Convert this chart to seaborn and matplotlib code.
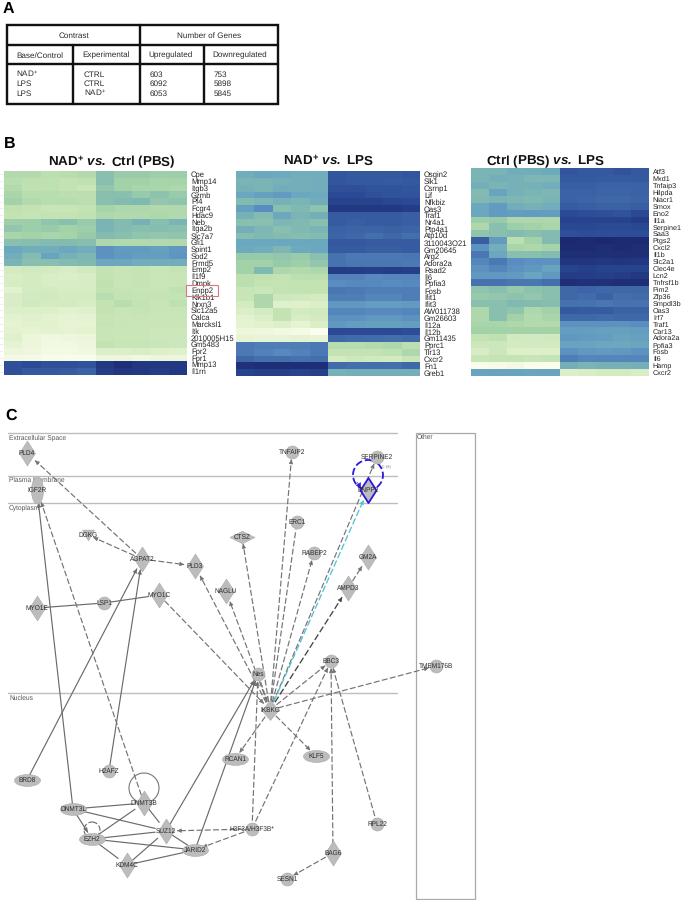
import numpy as np
import pandas as pd
import matplotlib
matplotlib.use("Agg")
import matplotlib.pyplot as plt
from matplotlib.colors import LinearSegmentedColormap
from matplotlib.path import Path
from matplotlib.patches import Rectangle, Circle
from matplotlib.transforms import Affine2D
import seaborn as sns

# ---------- Panel A ----------
table_header = ["Contrast", "Number of Genes"]
table_columns = ["Base/Control", "Experimental", "Upregulated", "Downregulated"]
base_control = ["NAD$^{+}$", "LPS", "LPS"]
experimental = ["CTRL", "CTRL", "NAD$^{+}$"]
upregulated = ["603", "6092", "6053"]
downregulated = ["753", "5898", "5845"]

# ---------- Panel B ----------
genes_1 = ["Cpe","Mmp14","Itgb3","Gzmb","Pf4","Fcgr4","Hdac9","Neb","Itga2b","Slc7a7","Gfi1","Spint1","Sod2","Frmd5","Emp2","Il1f9","Dmpk","Enpp2","Klk1b1","Nrxn3","Slc12a5","Calca","Marcksl1","Itk","2010005H15","Gm5483","Fpr2","Fpr1","Mmp13","Il1rn"]
values_1 = [
 [.36,.36,.33,.34,.36,.50,.45,.45,.43,.44],[.34,.32,.32,.30,.31,.50,.42,.42,.40,.41],
 [.36,.31,.32,.30,.27,.47,.42,.40,.40,.38],[.40,.34,.34,.33,.33,.50,.50,.46,.49,.45],
 [.42,.36,.34,.35,.33,.50,.52,.53,.47,.48],[.31,.30,.28,.28,.30,.41,.38,.38,.37,.37],
 [.30,.29,.30,.30,.31,.38,.37,.37,.38,.37],[.43,.44,.48,.50,.45,.55,.52,.56,.50,.55],
 [.47,.44,.45,.42,.44,.55,.52,.50,.51,.50],[.40,.42,.40,.41,.45,.52,.50,.48,.47,.48],
 [.50,.51,.52,.52,.51,.38,.37,.37,.37,.37],[.60,.58,.58,.60,.58,.68,.65,.65,.63,.66],
 [.58,.52,.62,.56,.54,.68,.66,.64,.64,.67],[.55,.50,.50,.52,.53,.60,.60,.58,.58,.58],
 [.22,.24,.22,.20,.24,.30,.28,.29,.27,.29],[.20,.22,.20,.19,.20,.30,.28,.29,.27,.28],
 [.21,.22,.20,.20,.21,.31,.28,.29,.27,.28],[.16,.22,.22,.21,.21,.30,.29,.28,.28,.31],
 [.20,.23,.24,.22,.22,.34,.30,.29,.29,.29],[.20,.24,.22,.22,.21,.30,.34,.30,.28,.32],
 [.18,.18,.18,.16,.17,.30,.28,.29,.28,.28],[.16,.17,.15,.13,.14,.28,.27,.28,.27,.27],
 [.14,.16,.16,.13,.13,.29,.28,.27,.27,.27],[.15,.13,.15,.14,.15,.28,.27,.27,.26,.26],
 [.17,.10,.07,.08,.09,.28,.27,.27,.26,.26],[.14,.10,.06,.06,.08,.30,.28,.28,.27,.26],
 [.10,.08,.05,.05,.07,.19,.19,.20,.18,.17],[.05,.04,.03,.02,.02,.10,.09,.07,.10,.09],
 [.88,.90,.88,.88,.87,.95,.98,.95,.95,.95],[.88,.85,.85,.84,.82,.94,.96,.95,.94,.95]]

genes_2 = ["Osgin2","Slk1","Csrnp1","Lif","Nfkbiz","Oas3","Traf1","Nr4a1","Ptp4a1","Atp10d","3110043O21","Gm20645","Arg2","Adora2a","Rsad2","Il6","Ppfia3","Fosb","Ifit1","Ifit3","AW011738","Gm26603","Il12a","Il12b","Gm11435","Pprc1","Tlr13","Cxcr2","Fn1","Greb1"]
values_2 = [
 [.58,.60,.59,.58,.58,.86,.85,.85,.85,.86],[.55,.55,.56,.57,.58,.86,.85,.85,.84,.85],
 [.56,.55,.58,.57,.58,.88,.88,.87,.87,.86],[.60,.63,.65,.60,.59,.90,.90,.88,.87,.87],
 [.52,.54,.56,.55,.58,.92,.92,.92,.91,.90],[.63,.70,.50,.53,.49,.95,.95,.95,.95,.94],
 [.56,.52,.60,.55,.57,.84,.84,.84,.84,.83],[.50,.50,.54,.53,.50,.84,.83,.84,.84,.83],
 [.57,.54,.50,.53,.55,.82,.81,.81,.82,.81],[.51,.53,.52,.51,.52,.81,.80,.78,.80,.78],
 [.60,.60,.60,.60,.60,.85,.85,.84,.84,.84],[.59,.58,.54,.59,.60,.84,.84,.83,.83,.84],
 [.46,.46,.47,.45,.50,.77,.75,.75,.75,.76],[.42,.42,.46,.43,.47,.77,.76,.76,.76,.75],
 [.42,.53,.38,.36,.38,.94,.94,.93,.94,.93],[.33,.31,.30,.33,.33,.73,.73,.71,.72,.72],
 [.33,.30,.29,.30,.30,.70,.71,.71,.70,.71],[.28,.27,.30,.30,.30,.76,.75,.74,.74,.74],
 [.28,.38,.25,.24,.22,.74,.74,.72,.72,.74],[.22,.38,.17,.17,.19,.66,.66,.64,.64,.65],
 [.19,.22,.30,.22,.24,.72,.72,.71,.71,.72],[.15,.19,.30,.20,.22,.68,.68,.66,.66,.68],
 [.14,.16,.18,.13,.19,.66,.64,.63,.63,.64],[.09,.08,.06,.04,.00,.90,.90,.90,.90,.89],
 [.13,.12,.12,.14,.12,.80,.79,.79,.78,.79],[.75,.74,.74,.74,.75,.35,.35,.36,.38,.33],
 [.75,.73,.71,.73,.75,.30,.30,.30,.32,.38],[.80,.78,.78,.77,.78,.22,.25,.24,.22,.28],
 [.97,.98,.98,.98,.98,.79,.78,.78,.78,.80],[.92,.93,.93,.92,.93,.56,.57,.57,.57,.57]]

genes_3 = ["Atf3","Mxd1","Tnfaip3","Hilpda","Niacr1","Smox","Eno2","Il1a","Serpine1","Saa3","Ptgs2","Cxcl2","Il1b","Slc2a1","Clec4e","Lcn2","Tnfrsf1b","Pim2","Zfp36","Smpdl3b","Oas3","Irf7","Traf1","Car13","Adora2a","Ppfia3","Fosb","Il6","Hamp","Cxcr2"]
values_3 = [
 [.55,.55,.58,.58,.59,.86,.85,.85,.87,.85],[.55,.57,.56,.54,.54,.85,.85,.84,.84,.85],
 [.57,.55,.56,.56,.58,.83,.83,.82,.82,.82],[.52,.62,.56,.55,.54,.82,.82,.81,.81,.82],
 [.53,.55,.54,.53,.55,.82,.81,.80,.80,.81],[.60,.65,.58,.56,.58,.84,.83,.82,.82,.83],
 [.60,.65,.64,.65,.64,.90,.89,.88,.87,.90],[.44,.45,.38,.38,.38,.92,.92,.92,.92,.94],
 [.38,.50,.44,.42,.40,.91,.91,.90,.90,.91],[.48,.50,.52,.50,.52,.88,.89,.89,.89,.89],
 [.83,.65,.33,.42,.52,1.0,.99,1.0,.99,.99],[.68,.57,.40,.38,.41,.99,.99,.98,.99,.98],
 [.76,.60,.50,.50,.52,.98,.98,.98,.98,.98],[.72,.75,.70,.68,.68,.96,.96,.95,.96,.95],
 [.68,.72,.68,.66,.62,.92,.93,.92,.92,.92],[.66,.66,.65,.61,.66,.94,.94,.93,.94,.95],
 [.77,.77,.76,.76,.78,.98,.97,.97,.98,.98],[.48,.50,.46,.49,.50,.80,.81,.80,.80,.80],
 [.46,.47,.49,.47,.50,.80,.79,.82,.78,.79],[.50,.50,.53,.52,.51,.77,.77,.76,.77,.77],
 [.38,.50,.48,.38,.42,.85,.84,.84,.82,.82],[.38,.50,.42,.36,.40,.80,.80,.79,.80,.80],
 [.40,.40,.38,.36,.36,.68,.68,.68,.68,.70],[.42,.42,.42,.42,.42,.64,.64,.63,.63,.64],
 [.30,.32,.23,.23,.24,.66,.65,.64,.62,.63],[.26,.26,.22,.23,.23,.62,.62,.60,.60,.61],
 [.21,.26,.18,.18,.18,.68,.66,.65,.66,.68],[.28,.29,.29,.28,.29,.74,.72,.72,.72,.72],
 [.02,.03,.05,.01,.01,.57,.55,.56,.56,.57],[.62,.62,.62,.61,.62,.18,.20,.22,.22,.20]]

titles = ["NAD$^{\\mathbf{+}}$ $\\mathbfit{vs.}$ Ctrl (PBS)",
          "NAD$^{\\mathbf{+}}$ $\\mathbfit{vs.}$ LPS",
          "Ctrl (PBS) $\\mathbfit{vs.}$ LPS"]

# ---------- Panel C ----------
layer_names = ["Extracellular Space", "Plasma Membrane", "Cytoplasm", "Nucleus"]
layer_y = [433, 476, 503, 693]

node_names = ["PLD4","IGF2R","DGKG","AGPAT2","PLD3","MYO1E","LSP1","MYO1C","NAGLU","CTSZ","TNFAIP2","ERC1","RABEP2","SERPINE2","ENPP2","GM2A","AMPD3","BBC3","TMEM176B","Nes","IKBKG","RCAN1","KLF5","BRD8","H2AFZ","DNMT3L","DNMT3B","SUZ12","EZH2","JARID2","KDM4C","H3F3A/H3F3B*","BAG6","SESN1","RPL22"]
node_x = [27,37,88,142,195,37,104,159,226,242,292,297,314,377,368,368,348,331,436,258,270,235,316,27,109,73,144,166,92,195,127,252,333,287,377]
node_y = [453,490,535,559,566,608,603,595,591,537,452,522,553,457,490,557,588,661,666,674,710,759,756,780,771,809,803,831,839,850,865,829,853,879,824]
node_kind = ["diamond","tall","tri","diamond","diamond","diamond","circle","diamond","diamond","wide","circle","circle","circle","circle","diamond","diamond","diamond","circle","circle","circle","ikbkg","ellipse","ellipse","ellipse","circle","ellipse","diamond","diamond","ellipse","ellipse","diamond","circle","diamond","circle","circle"]

solid_edges = [("BRD8","AGPAT2"),("H2AFZ","AGPAT2"),("DNMT3L","IGF2R"),("DNMT3L","EZH2"),("SUZ12","Nes"),("JARID2","Nes")]
solid_links = [("MYO1E","LSP1"),("LSP1","MYO1C"),("DNMT3L","DNMT3B"),("DNMT3L","SUZ12"),("EZH2","DNMT3B"),("EZH2","SUZ12"),("EZH2","JARID2"),("EZH2","KDM4C"),("KDM4C","SUZ12"),("KDM4C","JARID2"),("DNMT3B","SUZ12"),("SUZ12","JARID2")]
dashed_edges = [("AGPAT2","PLD4"),("AGPAT2","DGKG"),("AGPAT2","PLD3"),("DNMT3B","IGF2R"),("MYO1C","IKBKG"),
                ("IKBKG","PLD3"),("IKBKG","NAGLU"),("IKBKG","CTSZ"),("IKBKG","TNFAIP2"),("IKBKG","RABEP2"),
                ("IKBKG","SERPINE2"),("AMPD3","GM2A"),("IKBKG","BBC3"),("IKBKG","RCAN1"),("IKBKG","KLF5"),
                ("IKBKG","TMEM176B"),("H3F3A/H3F3B*","Nes"),("H3F3A/H3F3B*","BBC3"),("BAG6","BBC3"),("RPL22","BBC3"),
                ("BAG6","SESN1"),("H3F3A/H3F3B*","JARID2"),("H3F3A/H3F3B*","SUZ12"),("Nes","IKBKG")]
dashed_links = [("IKBKG","ERC1")]
dark_edges = [("IKBKG","AMPD3")]
cyan_edges = [("IKBKG","ENPP2")]

# ---------- Style ----------
sns.set_theme(style="white")
plt.rcParams["font.family"] = ["Liberation Sans", "DejaVu Sans"]
plt.rcParams["text.hinting"] = "no_hinting"
plt.rcParams["mathtext.fontset"] = "custom"
plt.rcParams["mathtext.rm"] = "Liberation Sans"
plt.rcParams["mathtext.it"] = "Liberation Sans:italic"
plt.rcParams["mathtext.bf"] = "Liberation Sans:bold"
plt.rcParams["mathtext.bfit"] = "Liberation Sans:italic:bold"
plt.rcParams["mathtext.default"] = "regular"

W, H = 683, 900
fig = plt.figure(figsize=(W / 100, H / 100), dpi=100, facecolor="white")
pt = 0.72

ov = fig.add_axes([0, 0, 1, 1], zorder=0)
ov.set_xlim(0, W); ov.set_ylim(H, 0); ov.axis("off")

for letter, x, y in [("A", 3, 13), ("B", 4, 148), ("C", 5, 420)]:
    ov.text(x, y, letter, fontsize=11.5, fontweight="bold", color="black", va="baseline")

# Panel A table
tc = "#111111"; tw = 2.4 * pt
ov.add_patch(Rectangle((7, 24.5), 271, 79, fill=False, ec=tc, lw=tw))
ov.plot([7, 278], [44.5, 44.5], color=tc, lw=tw)
ov.plot([7, 278], [64, 64], color=tc, lw=tw)
ov.plot([140, 140], [24.5, 103.5], color=tc, lw=tw)
ov.plot([73, 73], [44.5, 103.5], color=tc, lw=tw)
ov.plot([204, 204], [44.5, 103.5], color=tc, lw=tw)
tf = dict(fontsize=5.9, color="#2a2a2a")
for txt, x in zip(table_header, [73.5, 209]):
    ov.text(x, 37.5, txt, ha="center", va="baseline", **tf)
for txt, x in zip(table_columns, [40, 106, 171, 239.5]):
    ov.text(x, 57.5, txt, ha="center", va="baseline", **tf)
for col, x in zip([base_control, experimental, upregulated, downregulated], [16, 84, 150, 214]):
    for txt, y in zip(col, [76.5, 86, 95.5]):
        ov.text(x, y, txt, ha="left", va="baseline", **tf)

# Panel B heatmaps
cmap = LinearSegmentedColormap.from_list("hm", [
    (0.00, "#fbfdee"), (0.15, "#e3f2cf"), (0.30, "#c3e3b3"), (0.42, "#a3d2a8"),
    (0.52, "#83bbb0"), (0.60, "#6ba8bf"), (0.70, "#5a8dc0"), (0.80, "#3f68a8"),
    (0.90, "#2b4a96"), (1.00, "#1c2870")])
boxes = [(4, 171, 187, 375), (236, 171, 420, 376), (471, 168, 649, 376)]
label_sizes = [5.5, 5.5, 5.2]
for vals, genes, (x0, y0, x1, y1), ls_ in zip([values_1, values_2, values_3], [genes_1, genes_2, genes_3], boxes, label_sizes):
    ax = fig.add_axes([x0 / W, 1 - y1 / H, (x1 - x0) / W, (y1 - y0) / H], zorder=1)
    ax.patch.set_alpha(0)
    df = pd.DataFrame(vals, index=genes)
    sns.heatmap(df, cmap=cmap, vmin=0, vmax=1, cbar=False, ax=ax, xticklabels=False, yticklabels=genes)
    ax.yaxis.tick_right()
    ax.tick_params(axis="y", length=0, left=False, right=False, labelleft=False, labelright=True,
                   labelrotation=0, labelsize=ls_, pad=2.8, labelcolor="#222222")
for ttl, cx in zip(titles, [112, 328, 545]):
    ov.text(cx, 165, ttl, fontsize=9.6, fontweight="bold", ha="center", va="baseline", color="#111111")

axr = fig.add_axes([0, 0, 1, 1], zorder=2)
axr.set_xlim(0, W); axr.set_ylim(H, 0); axr.axis("off"); axr.patch.set_alpha(0)
axr.add_patch(Rectangle((186, 284.5), 32, 11.5, fill=False, ec="#d9777a", lw=0.8))
axr.hlines([171 + (i + .5) * 204 / len(genes_1) for i in range(len(genes_1))], 0, 2.5, color="#c8c8c8", lw=0.5, linestyles=":")

# Panel C frame
layer_color = "#bdbdbd"
for y in layer_y:
    ov.plot([8, 397], [y, y], color=layer_color, lw=1.0)
ov.add_patch(Rectangle((416, 433), 59, 466, fill=False, ec="#a8a8a8", lw=0.9))
sf = dict(fontsize=4.8, color="#555555", va="center")
for name, y in zip(layer_names, [438, 480, 508, 698]):
    ov.text(9, y, name, zorder=1, **sf)
ov.text(417, 437.5, "Other", **sf)

pos = {n: (x, y) for n, x, y in zip(node_names, node_x, node_y)}
kinds = dict(zip(node_names, node_kind))
reach = {"diamond": 11, "tall": 13, "tri": 6, "circle": 7.5, "wide": 7, "ellipse": 8, "ikbkg": 9}

def link(a, b, color, ls, lw, arrow=True, zorder=2):
    p, q = np.array(pos[a], float), np.array(pos[b], float)
    u = (q - p) / np.hypot(*(q - p))
    end = q - u * reach[kinds[b]]
    ov.plot([p[0], end[0]], [p[1], end[1]], color=color, ls=ls, lw=lw, zorder=zorder)
    if arrow:
        ov.annotate("", xy=end, xytext=end - u * 4,
                    arrowprops=dict(arrowstyle="-|>,head_length=0.45,head_width=0.22", color=color,
                                    lw=0.4, mutation_scale=6, shrinkA=0, shrinkB=0), zorder=zorder)

dash = (0, (5, 2))
for a, b in solid_edges: link(a, b, "#6b6b6b", "-", 0.85)
for a, b in solid_links: link(a, b, "#6b6b6b", "-", 0.85, arrow=False)
for a, b in dashed_edges: link(a, b, "#737373", dash, 0.85)
for a, b in dashed_links: link(a, b, "#737373", dash, 0.85, arrow=False)
for a, b in dark_edges: link(a, b, "#444444", dash, 0.95)
for a, b in cyan_edges: link(a, b, "#4fc3d6", dash, 0.95, zorder=3)

ov.add_patch(Circle((144, 788), 15, fill=False, ec="#777777", lw=0.8, zorder=2))
ov.add_patch(Circle((92, 830), 8, fill=False, ec="#666666", lw=0.8, ls=dash, zorder=2))
ov.add_patch(Circle((368, 475), 15, fill=False, ec="#2a17e0", lw=1.3, ls=(0, (4, 1.6)), zorder=3))
ov.annotate("", xy=(361, 488), xytext=(357, 482),
            arrowprops=dict(arrowstyle="-|>,head_length=0.5,head_width=0.3", color="#2a17e0", lw=0.4,
                            mutation_scale=6, shrinkA=0, shrinkB=0), zorder=3)
ov.text(386, 467, "0 (8)", fontsize=3.2, color="#8a8a8a", ha="center", va="center")

diamond_path = Path([(0, 1), (0.64, 0), (0, -1), (-0.64, 0), (0, 1)], closed=True)
wide_path = Path([(1, 0), (0, 0.5), (-1, 0), (0, -0.5), (1, 0)], closed=True)
ikbkg_path = Path([(0, 1), (0.85, 0), (0, -1), (-0.85, 0), (0, 1)], closed=True)
tri_path = Path([(-1, 0.9), (1, 0.9), (0, -0.9), (-1, 0.9)], closed=True)
ellipse_path = Path.unit_circle().transformed(Affine2D().scale(1, 0.46))
tall_path = Path.unit_circle().transformed(Affine2D().scale(0.45, 1))
shape = {"diamond": (diamond_path, 25), "wide": (wide_path, 25), "ikbkg": (ikbkg_path, 20),
         "tri": (tri_path, 12), "ellipse": (ellipse_path, 26), "tall": (tall_path, 27), "circle": ("o", 13)}
nodes = pd.DataFrame({"name": node_names, "x": node_x, "y": node_y, "kind": node_kind})
for kind, (marker, dim) in shape.items():
    sub = nodes[nodes.kind == kind]
    sns.scatterplot(data=sub, x="x", y="y", marker=marker, s=(dim * pt) ** 2, color="#bcbcbc",
                    edgecolor="#aaaaaa", linewidth=0.4, ax=ov, legend=False, zorder=4, clip_on=False)
enpp2 = nodes[nodes.name == "ENPP2"]
sns.scatterplot(data=enpp2, x="x", y="y", marker=diamond_path, s=(25 * pt) ** 2, color="#bcbcbc",
                edgecolor="#2a17e0", linewidth=1.3, ax=ov, legend=False, zorder=5, clip_on=False)
ov.set_xlim(0, W); ov.set_ylim(H, 0); ov.axis("off")

for n, x, y in zip(node_names, node_x, node_y):
    ov.text(x, y + 0.5, n, fontsize=4.7, color="#2a2a2a", ha="center", va="center", zorder=6)

fig.savefig("out.png", dpi=100, facecolor="white")
